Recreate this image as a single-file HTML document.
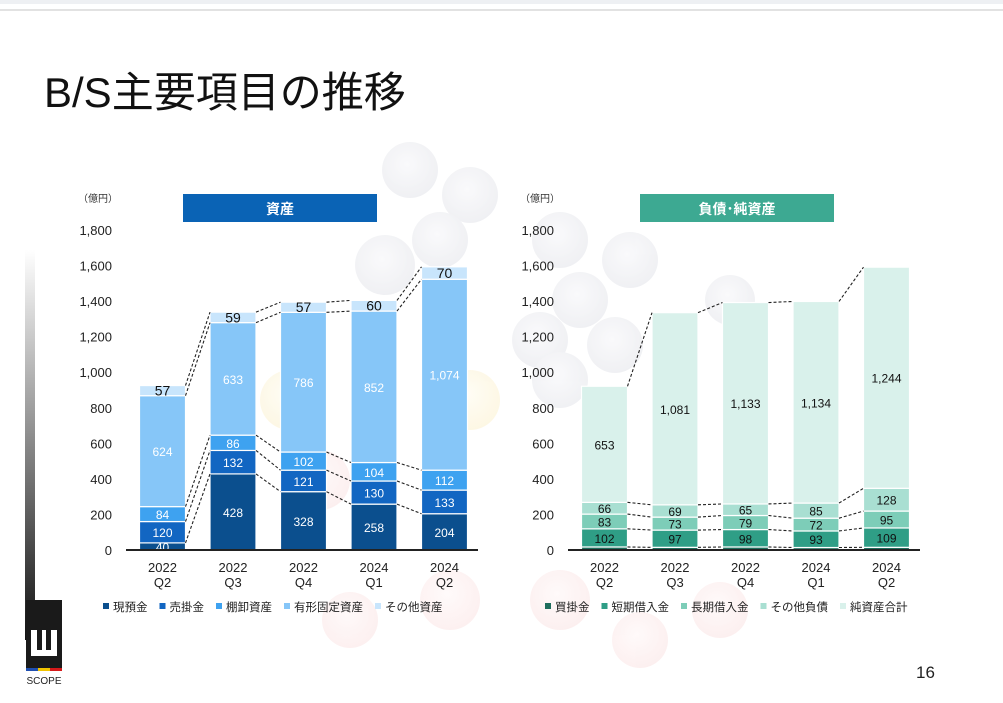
<!DOCTYPE html>
<html><head><meta charset="utf-8">
<style>
body{margin:0;background:#fff;}
#wrap{position:relative;width:1003px;height:703px;overflow:hidden;background:#fff;font-family:"Liberation Sans","Noto Sans CJK JP",sans-serif;}
svg text{font-family:"Liberation Sans","Noto Sans CJK JP",sans-serif;}
</style></head>
<body>
<div id="wrap">
<svg id="svg" width="1003" height="703" viewBox="0 0 1003 703" xmlns="http://www.w3.org/2000/svg">
<defs>
<linearGradient id="gbar" x1="0" y1="0" x2="0" y2="1"><stop offset="0" stop-color="#fff"/><stop offset="1" stop-color="#111"/></linearGradient>
<radialGradient id="gc" cx="0.45" cy="0.4" r="0.6"><stop offset="0" stop-color="#f7f7fa"/><stop offset="1" stop-color="#e6e7ec"/></radialGradient>
<radialGradient id="yc" cx="0.45" cy="0.4" r="0.6"><stop offset="0" stop-color="#fffcef"/><stop offset="1" stop-color="#fcf2d2"/></radialGradient>
<radialGradient id="rc" cx="0.45" cy="0.4" r="0.6"><stop offset="0" stop-color="#fff7f7"/><stop offset="1" stop-color="#fbe6e6"/></radialGradient>
</defs>
<rect x="0" y="0" width="1003" height="4" fill="#eef0f3"/>
<rect x="0" y="9" width="1003" height="2" fill="#e2e2e2"/>
<g id="bg" opacity="0.6">
<circle cx="410" cy="170" r="28" fill="url(#gc)"/><circle cx="470" cy="195" r="28" fill="url(#gc)"/>
<circle cx="440" cy="240" r="28" fill="url(#gc)"/><circle cx="385" cy="265" r="30" fill="url(#gc)"/>
<circle cx="560" cy="240" r="28" fill="url(#gc)"/><circle cx="630" cy="260" r="28" fill="url(#gc)"/>
<circle cx="580" cy="300" r="28" fill="url(#gc)"/><circle cx="540" cy="340" r="28" fill="url(#gc)"/>
<circle cx="615" cy="345" r="28" fill="url(#gc)"/><circle cx="560" cy="380" r="28" fill="url(#gc)"/>
<circle cx="730" cy="300" r="25" fill="url(#gc)"/>
<circle cx="290" cy="400" r="30" fill="url(#yc)"/><circle cx="470" cy="400" r="30" fill="url(#yc)"/>
<circle cx="320" cy="480" r="30" fill="url(#rc)"/><circle cx="450" cy="600" r="30" fill="url(#rc)"/>
<circle cx="560" cy="600" r="30" fill="url(#rc)"/><circle cx="640" cy="640" r="28" fill="url(#rc)"/>
<circle cx="720" cy="610" r="28" fill="url(#rc)"/><circle cx="350" cy="620" r="28" fill="url(#rc)"/>
</g>
<rect x="25" y="250" width="10" height="390" fill="url(#gbar)"/>
<g>
<rect x="26" y="600" width="36" height="68" fill="#1a1a1a"/>
<rect x="31" y="630" width="6" height="26" fill="#fff"/><rect x="51" y="630" width="6" height="26" fill="#fff"/><rect x="42" y="630" width="4" height="22" fill="#fff"/><rect x="31" y="650" width="26" height="6" fill="#fff"/>
<rect x="26" y="668" width="12" height="3" fill="#1f4fb0"/><rect x="38" y="668" width="12" height="3" fill="#f2c400"/><rect x="50" y="668" width="12" height="3" fill="#d61a1a"/>
<text x="44" y="684" font-size="10" text-anchor="middle" fill="#222">SCOPE</text>
</g>
<text x="44" y="107" font-size="42" fill="#111">B/S主要項目の推移</text>
<text x="916" y="678" font-size="17" fill="#222">16</text>
<g id="charts"></g>
</svg>
</div>
<script>
const categories=["2022\nQ2","2022\nQ3","2022\nQ4","2024\nQ1","2024\nQ2"];
const yTicks=[0,200,400,600,800,1000,1200,1400,1600,1800];
const assetNames=["現預金","売掛金","棚卸資産","有形固定資産","その他資産"];
const assetCash=[40,428,328,258,204];
const assetAR=[120,132,121,130,133];
const assetInv=[84,86,102,104,112];
const assetPPE=[624,633,786,852,1074];
const assetOther=[57,59,57,60,70];
const liabNames=["買掛金","短期借入金","長期借入金","その他負債","純資産合計"];
const liabAP=[17,15,17,14,15];
const liabShort=[102,97,98,93,109];
const liabLong=[83,73,79,72,95];
const liabOther=[66,69,65,85,128];
const netAssets=[653,1081,1133,1134,1244];

const NS="http://www.w3.org/2000/svg";
const root=document.getElementById('charts');
function mk(tag,attrs,parent){const e=document.createElementNS(NS,tag);for(const k in attrs)e.setAttribute(k,attrs[k]);(parent||root).appendChild(e);return e;}
function fmt(v){return v.toLocaleString('en-US');}

function drawChart(o){
  const g=mk('g',{});
  
  
  const y0=550,ppu=320/1800;
  const yS=v=>y0-v*ppu;
  const xS=i=>o.x0+i*o.step;
  const bw=46;
  const hb=mk('rect',{x:o.hx,y:194,width:194,height:28,fill:o.hcol},g);
  
  
  const ht=mk('text',{x:o.hx+97,y:214,'font-size':14,'font-weight':'bold',fill:'#fff','text-anchor':'middle'},g);
  ht.textContent=o.title;
  
  
  const un=mk('text',{x:o.ax-50,y:202,'font-size':10,fill:'#333'},g);
  un.textContent='（億円）';
  
  
  yTicks.forEach(t=>{
    const tx=mk('text',{x:o.ax-16,y:yS(t)+5,'font-size':13,fill:'#222','text-anchor':'end'},g);
    tx.textContent=fmt(t);
    
    
  });
  const n=categories.length;
  const cums=[];
  for(let i=0;i<n;i++){
    let c=0;const arr=[];
    o.series.forEach((s,si)=>{
      const v=s[i];
      const r=mk('rect',{x:xS(i),y:yS(c+v),width:bw,height:v*ppu,fill:o.colors[si],stroke:'#fff','stroke-width':1.2},g);
      
      
      if(o.showLabel[si]){
        const onTop=o.topLabel&&si===o.series.length-1;
        const t=mk('text',{x:xS(i)+bw/2,y:yS(c+v/2)+5,'font-size':onTop?14:12,fill:o.txtCol[si],'text-anchor':'middle'},g);
        t.textContent=fmt(v);
        
        
      }
      c+=v;arr.push(c);
    });
    cums.push(arr);
    categories[i].split('\n').forEach((ln,k)=>{
      const t=mk('text',{x:xS(i)+bw/2,y:572+k*15,'font-size':13,fill:'#222','text-anchor':'middle'},g);
      t.textContent=ln;
      
      
    });
  }
  for(let i=0;i<n-1;i++){
    cums[i].forEach((cv,si)=>{
      const l=mk('line',{x1:xS(i)+bw,y1:yS(cv),x2:xS(i+1),y2:yS(cums[i+1][si]),stroke:'#222','stroke-width':1.1,'stroke-dasharray':'3,2'},g);
      
      
    });
  }
  const ax=mk('line',{x1:o.ax-2,y1:y0,x2:o.ax+350,y2:y0,stroke:'#222','stroke-width':2},g);
  
  
  let lx=o.legX;
  o.names.forEach((nm,si)=>{
    const sw=mk('rect',{x:lx,y:603,width:6,height:6,fill:o.colors[si]},g);
    
    
    const t=mk('text',{x:lx+10,y:611,'font-size':11.5,fill:'#222'},g);
    t.textContent=nm;
    
    
    lx+=10+nm.length*11.5+12;
  });
}
drawChart({id:'assets',title:'資産',hx:183,hcol:'#0a63b5',x0:139.5,step:70.5,ax:128,legX:103,
  series:[assetCash,assetAR,assetInv,assetPPE,assetOther],names:assetNames,
  colors:['#0b4f8e','#1266c2','#3ea2f0','#86c6f8','#c8e5fc'],
  txtCol:['#fff','#fff','#fff','#fff','#111'],showLabel:[1,1,1,1,1],topLabel:true});
drawChart({id:'liabilities',title:'負債･純資産',hx:640,hcol:'#3da992',x0:581.5,step:70.5,ax:570,legX:545,
  series:[liabAP,liabShort,liabLong,liabOther,netAssets],names:liabNames,
  colors:['#1f6e5d','#2f9e86','#7dcdb8','#a9dfd2','#d9f1eb'],
  txtCol:['#fff','#111','#111','#111','#111'],showLabel:[0,1,1,1,1],topLabel:false});
</script>
</body></html>
